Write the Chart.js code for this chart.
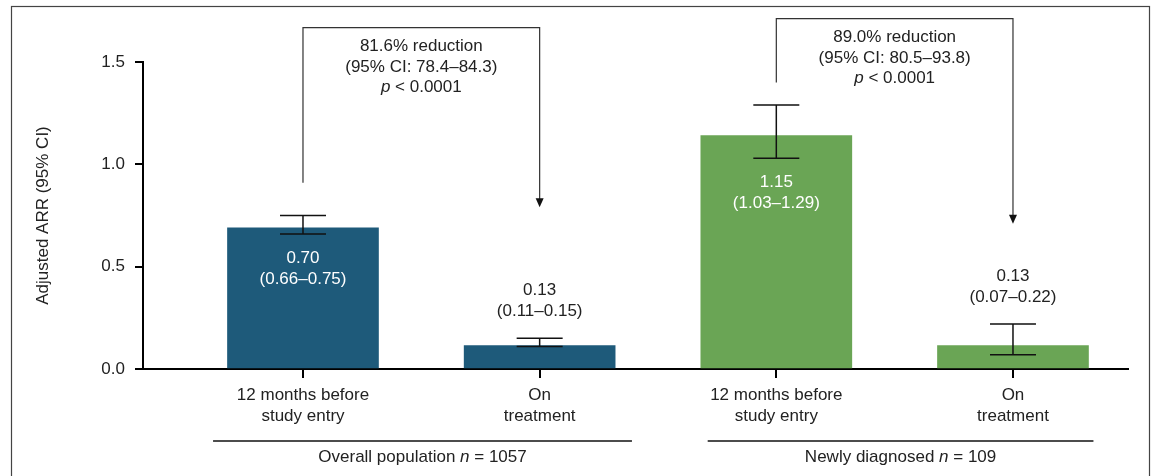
<!DOCTYPE html>
<html>
<head>
<meta charset="utf-8">
<script src="https://cdn.jsdelivr.net/npm/chart.js@4"></script>
<style>
  html, body { margin: 0; padding: 0; background: #fff; }
  #wrap { width: 1152px; height: 476px; position: relative; }
</style>
</head>
<body>
<div id="wrap"><canvas id="arrChart" width="1152" height="476"></canvas></div>
<script>
// data
var categories = [['12 months before', 'study entry'], ['On', 'treatment'], ['12 months before', 'study entry'], ['On', 'treatment']];
var arrValues = [0.69, 0.115, 1.14, 0.115];
var ciLow = [0.66, 0.11, 1.03, 0.07];
var ciHigh = [0.75, 0.15, 1.29, 0.22];
var valueLabels = ['0.70', '0.13', '1.15', '0.13'];
var ciLabels = ['(0.66–0.75)', '(0.11–0.15)', '(1.03–1.29)', '(0.07–0.22)'];
var yTicks = [0, 0.5, 1.0, 1.5];
var groupNames = ['Overall population', 'Newly diagnosed'];
var groupN = ['1057', '109'];
var reductionText = ['81.6% reduction', '89.0% reduction'];
var reductionCI = ['(95% CI: 78.4–84.3)', '(95% CI: 80.5–93.8)'];
var pValues = ['0.0001', '0.0001'];

var FONT = "'Liberation Sans', Arial, sans-serif";
var FS = 17;
var BLUE = '#1e5a7a', GREEN = '#6aa555';

// where the brackets and group rules sit (in axis units)
var brackets = [
    { from: 0, to: 1, startY: 0.91, topY: 1.668, tipY: 0.79 },
    { from: 2, to: 3, startY: 1.40, topY: 1.712, tipY: 0.71 }
];
var groups = [
    { from: -0.38, to: 1.39 },
    { from: 1.71, to: 3.34 }
];

function mixedLine(ctx, parts, cx, y) {
    // parts: [[text, italic], ...] drawn centred on cx
    var total = 0;
    parts.forEach(function(p) {
        ctx.font = (p[1] ? 'italic ' : '') + FS + 'px ' + FONT;
        p.w = ctx.measureText(p[0]).width;
        total += p.w;
    });
    var x = cx - total / 2;
    ctx.textAlign = 'left';
    parts.forEach(function(p) {
        ctx.font = (p[1] ? 'italic ' : '') + FS + 'px ' + FONT;
        ctx.fillText(p[0], x, y);
        x += p.w;
    });
}

var frame = {
    id: 'frame',
    beforeDraw: function(chart) {
        var ctx = chart.ctx;
        ctx.save();
        ctx.strokeStyle = '#444';
        ctx.lineWidth = 1.2;
        ctx.strokeRect(11.5, 6.5, 1138, 520);
        ctx.restore();
    }
};

var annotate = {
    id: 'annotate',
    afterDatasetsDraw: function(chart) {
        var ctx = chart.ctx, xs = chart.scales.x, ys = chart.scales.y;
        var area = chart.chartArea;
        ctx.save();
        ctx.textBaseline = 'middle';

        // error bars and value labels
        arrValues.forEach(function(v, i) {
            var x = xs.getPixelForValue(i);
            var yl = ys.getPixelForValue(ciLow[i]);
            var yh = ys.getPixelForValue(ciHigh[i]);
            ctx.strokeStyle = '#111';
            ctx.lineWidth = 1.5;
            ctx.beginPath();
            ctx.moveTo(x, yl); ctx.lineTo(x, yh);
            ctx.moveTo(x - 23, yl); ctx.lineTo(x + 23, yl);
            ctx.moveTo(x - 23, yh); ctx.lineTo(x + 23, yh);
            ctx.stroke();

            ctx.textAlign = 'center';
            ctx.font = FS + 'px ' + FONT;
            if (i % 2 === 0) {
                ctx.fillStyle = '#fff';
                ctx.fillText(valueLabels[i], x, yl + 24);
                ctx.fillText(ciLabels[i], x, yl + 45);
            } else {
                ctx.fillStyle = '#222';
                ctx.fillText(valueLabels[i], x, yh - 48);
                ctx.fillText(ciLabels[i], x, yh - 27);
            }
        });

        // reduction brackets
        brackets.forEach(function(b, k) {
            var x1 = xs.getPixelForValue(b.from), x2 = xs.getPixelForValue(b.to);
            var y0 = ys.getPixelForValue(b.startY), yt = ys.getPixelForValue(b.topY);
            var tip = ys.getPixelForValue(b.tipY);
            ctx.strokeStyle = '#333';
            ctx.lineWidth = 1.2;
            ctx.beginPath();
            ctx.moveTo(x1, y0); ctx.lineTo(x1, yt); ctx.lineTo(x2, yt); ctx.lineTo(x2, tip - 6);
            ctx.stroke();
            ctx.fillStyle = '#111';
            ctx.beginPath();
            ctx.moveTo(x2, tip); ctx.lineTo(x2 - 4, tip - 9); ctx.lineTo(x2 + 4, tip - 9);
            ctx.closePath();
            ctx.fill();

            var cx = (x1 + x2) / 2;
            ctx.fillStyle = '#222';
            ctx.textAlign = 'center';
            ctx.font = FS + 'px ' + FONT;
            ctx.fillText(reductionText[k], cx, yt + 19);
            ctx.fillText(reductionCI[k], cx, yt + 40);
            mixedLine(ctx, [['p', true], [' < ' + pValues[k], false]], cx, yt + 60);
        });

        // group rules under the axis
        groups.forEach(function(g, k) {
            var x1 = xs.getPixelForValue(g.from), x2 = xs.getPixelForValue(g.to);
            var y = area.bottom + 72;
            ctx.strokeStyle = '#111';
            ctx.lineWidth = 1.5;
            ctx.beginPath();
            ctx.moveTo(x1, y); ctx.lineTo(x2, y);
            ctx.stroke();
            ctx.fillStyle = '#222';
            mixedLine(ctx, [[groupNames[k] + ' ', false], ['n', true], [' = ' + groupN[k], false]], (x1 + x2) / 2, y + 16);
        });

        ctx.restore();
    }
};

var ctx = document.getElementById('arrChart').getContext('2d');
var arrChart = new Chart(ctx, {
    type: 'bar',
    data: {
        datasets: [{
            data: arrValues.map(function(v, i) { return { x: i, y: v }; }),
            backgroundColor: [BLUE, BLUE, GREEN, GREEN],
            barThickness: 151
        }]
    },
    options: {
        responsive: false,
        animation: false,
        layout: { padding: { left: 0, top: 62, right: 24, bottom: 0 } },
        plugins: { legend: { display: false }, tooltip: { enabled: false } },
        scales: {
            x: {
                type: 'linear',
                offset: false,
                min: -0.676,
                max: 3.486,
                afterBuildTicks: function(s) { s.ticks = [0, 1, 2, 3].map(function(v) { return { value: v }; }); },
                afterFit: function(s) { s.height = 107; },
                ticks: {
                    callback: function(v, i) { return categories[i]; },
                    color: '#222',
                    font: { family: FONT, size: FS, lineHeight: 1.24 },
                    padding: 7,
                    maxRotation: 0,
                    autoSkip: false
                },
                grid: { drawOnChartArea: false, offset: false, tickLength: 9, color: '#000', lineWidth: 2 },
                border: { color: '#000', width: 2 }
            },
            y: {
                min: 0,
                max: 1.5,
                afterBuildTicks: function(s) { s.ticks = yTicks.map(function(v) { return { value: v }; }); },
                afterFit: function(s) { s.width = 143; },
                ticks: {
                    callback: function(v) { return v.toFixed(1); },
                    color: '#222',
                    font: { family: FONT, size: FS },
                    padding: 10
                },
                grid: { drawOnChartArea: false, tickLength: 8, color: '#000', lineWidth: 2 },
                border: { color: '#000', width: 2 },
                title: {
                    display: true,
                    text: 'Adjusted ARR (95% CI)',
                    color: '#222',
                    font: { family: FONT, size: FS },
                    padding: { top: 33, bottom: 0 }
                }
            }
        }
    },
    plugins: [frame, annotate]
});
</script>
</body>
</html>
